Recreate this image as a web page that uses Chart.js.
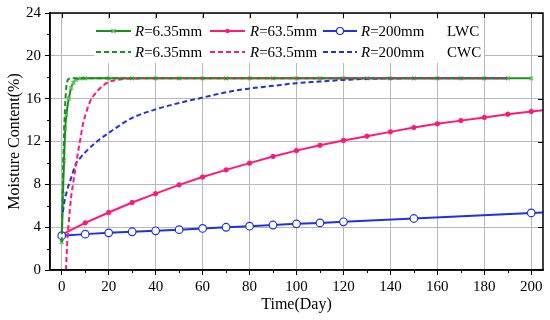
<!DOCTYPE html>
<html><head><meta charset="utf-8">
<script src="https://cdn.jsdelivr.net/npm/chart.js@4/dist/chart.umd.min.js"></script>
<style>html,body{margin:0;padding:0;background:#fff}</style>
</head><body>
<canvas id="c" width="550" height="320"></canvas>
<script>
// ---- tick values ----
const xTicks = [0, 20, 40, 60, 80, 100, 120, 140, 160, 180, 200];
const xMinor = [10, 30, 50, 70, 90, 110, 130, 150, 170, 190];
const yTicks = [0, 4, 8, 12, 16, 20, 24];
const yMinor = [2, 6, 10, 14, 18, 22];

// ---- series labels ----
const seriesLabels = ['R=6.35mm', 'R=63.5mm', 'R=200mm'];
const groupLabels = ['LWC', 'CWC'];

// ---- LWC R=6.35mm ----
const lwc1X = [0, 0.5, 1, 1.5, 2, 3, 4, 5, 6, 8, 10, 20, 30, 40, 50, 60, 70, 80, 90, 100, 110, 120, 130, 140, 150, 160, 170, 180, 190, 200];
const lwc1Y = [2.6, 7.1, 10.2, 13.2, 14.5, 16.0, 17.0, 17.5, 17.75, 17.88, 17.9, 17.9, 17.9, 17.9, 17.9, 17.9, 17.9, 17.9, 17.9, 17.9, 17.9, 17.9, 17.9, 17.9, 17.9, 17.9, 17.9, 17.9, 17.9, 17.9];
// ---- LWC R=63.5mm ----
const lwc2X = [0, 10, 20, 30, 40, 50, 60, 70, 80, 90, 100, 110, 120, 130, 140, 150, 160, 170, 180, 190, 200, 210];
const lwc2Y = [3.3, 4.4, 5.37, 6.3, 7.13, 7.95, 8.68, 9.35, 9.98, 10.6, 11.15, 11.65, 12.1, 12.5, 12.9, 13.3, 13.65, 13.95, 14.25, 14.55, 14.8, 15.05];
// ---- LWC R=200mm ----
const lwc3X = [0, 10, 20, 30, 40, 50, 60, 70, 80, 90, 100, 110, 120, 150, 200, 210];
const lwc3Y = [3.2, 3.35, 3.47, 3.57, 3.66, 3.77, 3.88, 3.99, 4.09, 4.2, 4.31, 4.4, 4.5, 4.81, 5.33, 5.43];

// ---- CWC R=6.35mm ----
const cwc1X = [0, 0.5, 1, 1.5, 2, 2.5, 3, 4, 5, 10, 50, 100, 150, 190];
const cwc1Y = [2.6, 8.5, 12.8, 15.6, 17.2, 17.7, 17.85, 17.9, 17.9, 17.9, 17.9, 17.9, 17.9, 17.9];
// ---- CWC R=63.5mm ----
const cwc2X = [1.8, 2.4, 3, 4, 5, 6, 7, 8, 9, 10, 12, 14, 16, 18, 20, 25, 30, 40, 60, 100, 150, 190];
const cwc2Y = [0, 2.8, 4.5, 6.8, 8.3, 9.7, 11.1, 12.3, 13.6, 14.4, 15.7, 16.4, 16.9, 17.3, 17.55, 17.8, 17.88, 17.9, 17.9, 17.9, 17.9, 17.9];
// ---- CWC R=200mm ----
const cwc3X = [0.5, 1, 2, 4, 6, 8, 10, 15, 20, 30, 40, 50, 60, 70, 80, 90, 100, 110, 120, 130, 140, 150, 160, 170, 180, 190];
const cwc3Y = [5.4, 6.2, 7.2, 8.6, 9.9, 10.5, 11.0, 12.0, 12.8, 14.2, 15.0, 15.6, 16.1, 16.6, 16.95, 17.2, 17.45, 17.6, 17.75, 17.85, 17.88, 17.9, 17.9, 17.9, 17.9, 17.9];

const GREEN = '#1a8f1a', PINK = '#ff1877', BLUE = '#2230dd';
const GREEN_MK = '#5fc25f';
const pts = (xs, ys) => xs.map((x, i) => ({x: x, y: ys[i]}));
const SERIF = '"Liberation Serif", "Times New Roman", serif';

const datasets = [
  {label: seriesLabels[0] + ' CWC', data: pts(cwc1X, cwc1Y), borderColor: GREEN, borderDash: [5, 3], borderWidth: 2, pointRadius: 0, cubicInterpolationMode: 'monotone'},
  {label: seriesLabels[1] + ' CWC', data: pts(cwc2X, cwc2Y), borderColor: PINK, borderDash: [5, 3], borderWidth: 2, pointRadius: 0, cubicInterpolationMode: 'monotone'},
  {label: seriesLabels[2] + ' CWC', data: pts(cwc3X, cwc3Y), borderColor: BLUE, borderDash: [5, 3], borderWidth: 2, pointRadius: 0, cubicInterpolationMode: 'monotone'},
  {label: seriesLabels[2] + ' LWC', data: pts(lwc3X, lwc3Y), borderColor: BLUE, borderWidth: 2, pointStyle: 'circle', pointRadius: 3.8, pointBackgroundColor: '#fff', pointBorderColor: BLUE, pointBorderWidth: 1.2},
  {label: seriesLabels[1] + ' LWC', data: pts(lwc2X, lwc2Y), borderColor: PINK, borderWidth: 2, pointStyle: 'circle', pointRadius: 2.2, pointBackgroundColor: PINK, pointBorderColor: PINK, pointBorderWidth: 1},
  {label: seriesLabels[0] + ' LWC', data: pts(lwc1X, lwc1Y), borderColor: GREEN, borderWidth: 2, pointStyle: 'crossRot', pointRadius: 2.6, pointBorderColor: GREEN_MK, pointBorderWidth: 1.4, cubicInterpolationMode: 'monotone'}
];

function drawMarker(ctx, style, x, y, color) {
  ctx.save();
  ctx.setLineDash([]);
  if (style === 'cross') {
    ctx.strokeStyle = GREEN_MK; ctx.lineWidth = 1.4;
    ctx.beginPath(); ctx.moveTo(x - 2, y - 2); ctx.lineTo(x + 2, y + 2); ctx.moveTo(x + 2, y - 2); ctx.lineTo(x - 2, y + 2); ctx.stroke();
  } else if (style === 'dot') {
    ctx.fillStyle = color; ctx.beginPath(); ctx.arc(x, y, 2.2, 0, Math.PI * 2); ctx.fill();
  } else if (style === 'open') {
    ctx.fillStyle = '#fff'; ctx.strokeStyle = color; ctx.lineWidth = 1.2;
    ctx.beginPath(); ctx.arc(x, y, 3.5, 0, Math.PI * 2); ctx.fill(); ctx.stroke();
  }
  ctx.restore();
}

const framePlugin = {
  id: 'frame',
  afterDatasetsDraw(chart) {
    const ctx = chart.ctx;
    // legend
    ctx.save();
    ctx.fillStyle = '#fff';
    ctx.fillRect(94, 19, 390, 44);
    const rows = [31, 52];
    const sx = [[96, 131], [210, 245], [323, 357]];
    const tx = [135, 250, 361];
    const cols = [GREEN, PINK, BLUE];
    const mk = ['cross', 'dot', 'open'];
    ctx.textBaseline = 'middle';
    ctx.fillStyle = '#000';
    for (let r = 0; r < 2; r++) {
      const y = rows[r];
      for (let i = 0; i < 3; i++) {
        ctx.strokeStyle = cols[i]; ctx.lineWidth = 2;
        ctx.setLineDash(r === 0 ? [] : [5, 3]);
        ctx.beginPath(); ctx.moveTo(sx[i][0], y); ctx.lineTo(sx[i][1], y); ctx.stroke();
        if (r === 0) drawMarker(ctx, mk[i], (sx[i][0] + sx[i][1]) / 2, y, cols[i]);
        const lab = seriesLabels[i];
        ctx.fillStyle = '#000';
        ctx.font = 'italic 15px ' + SERIF;
        ctx.fillText(lab[0], tx[i], y + 1);
        const w = ctx.measureText(lab[0]).width;
        ctx.font = '15px ' + SERIF;
        ctx.fillText(lab.slice(1), tx[i] + w, y + 1);
      }
      ctx.font = '15px ' + SERIF;
      ctx.fillText(groupLabels[r], 447, y + 1);
    }
    ctx.restore();
  },
  afterDraw(chart) {
    const ctx = chart.ctx;
    const a = chart.chartArea;
    const xs = chart.scales.x, ys = chart.scales.y;
    ctx.save();
    ctx.strokeStyle = '#000';
    ctx.setLineDash([]);
    ctx.lineWidth = 1;
    ctx.beginPath();
    xMinor.forEach(v => { const p = Math.round(xs.getPixelForValue(v)) + 0.5; ctx.moveTo(p, a.bottom); ctx.lineTo(p, a.bottom + 3); });
    yMinor.forEach(v => { const p = Math.round(ys.getPixelForValue(v)) + 0.5; ctx.moveTo(a.left, p); ctx.lineTo(a.left - 3, p); });
    xTicks.forEach(v => { const p = Math.round(xs.getPixelForValue(v)) + 0.5; ctx.moveTo(p, a.top); ctx.lineTo(p, a.top + 5); });
    yTicks.forEach(v => { const p = Math.round(ys.getPixelForValue(v)) + 0.5; ctx.moveTo(a.right, p); ctx.lineTo(a.right - 5, p); });
    ctx.stroke();
    ctx.lineWidth = 1.5;
    ctx.strokeRect(a.left, a.top, a.right - a.left, a.bottom - a.top);
    ctx.restore();
  }
};

new Chart(document.getElementById('c'), {
  type: 'line',
  data: {datasets: datasets},
  plugins: [framePlugin],
  options: {
    responsive: false,
    animation: false,
    devicePixelRatio: 1,
    layout: {padding: {top: 12, right: 7, left: 0, bottom: 0}},
    plugins: {legend: {display: false}, tooltip: {enabled: false}},
    scales: {
      x: {
        type: 'linear', min: -5, max: 205,
        afterBuildTicks: s => { s.ticks = xTicks.map(v => ({value: v})); },
        afterFit: s => { s.height = 50; },
        grid: {color: '#b9b9b9', lineWidth: 1, tickLength: 5, tickColor: '#000'},
        border: {color: '#000', width: 1.5},
        ticks: {font: {family: SERIF, size: 15}, color: '#000', padding: 3, maxRotation: 0, autoSkip: false},
        title: {display: true, text: 'Time(Day)', font: {family: SERIF, size: 16}, color: '#000', padding: {top: 0, bottom: 6}}
      },
      y: {
        type: 'linear', min: 0, max: 24,
        afterBuildTicks: s => { s.ticks = yTicks.map(v => ({value: v})); },
        afterFit: s => { s.width = 50; },
        grid: {color: '#b9b9b9', lineWidth: 1, tickLength: 5, tickColor: '#000'},
        border: {color: '#000', width: 1.5},
        ticks: {font: {family: SERIF, size: 15}, color: '#000', padding: 4, autoSkip: false},
        title: {display: true, text: 'Moisture Content(%)', font: {family: SERIF, size: 16}, color: '#000', padding: {top: 5, bottom: 0}}
      }
    }
  }
});
</script>
</body></html>
